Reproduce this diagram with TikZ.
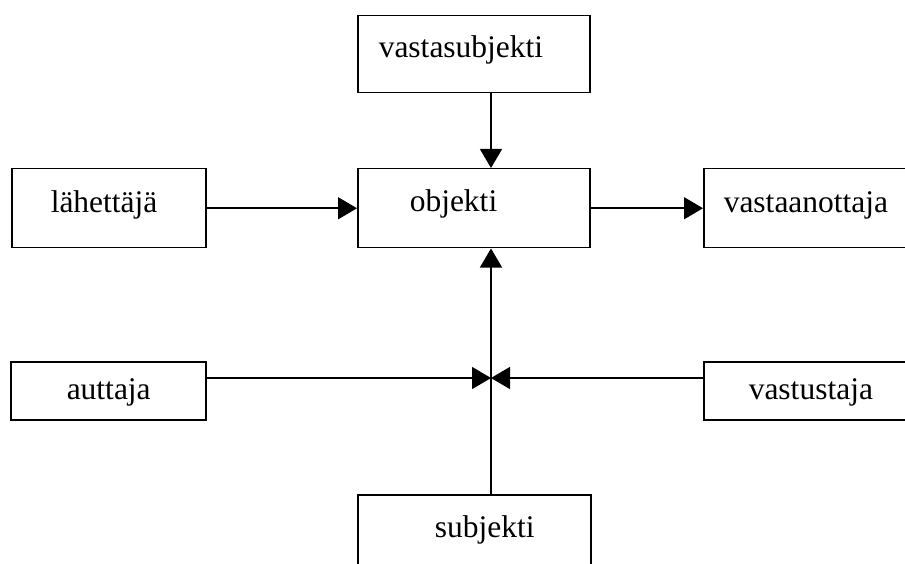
\documentclass[tikz,border=0pt]{standalone}
\usepackage{fontspec}
\setmainfont{Liberation Serif}
\usetikzlibrary{arrows.meta}
\hyphenpenalty=10000
\tikzstyle{box} = [draw, line width=1.5pt, anchor=north west, inner ysep=0pt, align=left, font=\fontsize{31.5}{36}\selectfont]
\tikzstyle{link} = [line width=1.5pt, -{Triangle[length=19pt, width=22pt]}]

\begin{document}
\begin{tikzpicture}[x=1pt, y=-1pt]
    \useasboundingbox (0,0) rectangle (905,564);
    \clip (0,0) rectangle (905,564);

    \node [box, inner xsep=21pt, text width=190pt, text height=42pt, text depth=35pt] (vastasubj) at (357,15) {vastasubjekti};
    \node [box, inner xsep=52pt, text width=128pt, text height=43pt, text depth=36pt] (objekti) at (357,168) {objekti};
    \node [box, inner xsep=39pt, text width=116pt, text height=44pt, text depth=35pt] (lahettaja) at (11,168) {lähettäjä};
    \node [box, inner xsep=20pt, text width=170pt, text height=44pt, text depth=35pt] (vastaanottaja) at (703,168) {vastaanottaja};
    \node [box, inner xsep=56pt, text width=83pt, text height=38pt, text depth=20pt] (auttaja) at (10,361) {auttaja};
    \node [box, inner xsep=45pt, text width=120pt, text height=38pt, text depth=20pt] (vastustaja) at (703,361) {vastustaja};
    \node [box, inner xsep=77pt, text width=79pt, text height=43pt, text depth=40pt] (subjekti) at (357,494) {subjekti};

    % where the side arrows meet the upward line
    \coordinate (axis) at (491,378);

    \draw [link] (vastasubj.south -| axis) -- (objekti.north -| axis);
    \draw [link] (subjekti.north -| axis) -- (objekti.south -| axis);
    \draw [link] (lahettaja.east) -- (objekti.west);
    \draw [link] (objekti.east) -- (vastaanottaja.west);
    \draw [link] (auttaja.east |- axis) -- (axis);
    \draw [link] (vastustaja.west |- axis) -- (axis);
\end{tikzpicture}
\end{document}
